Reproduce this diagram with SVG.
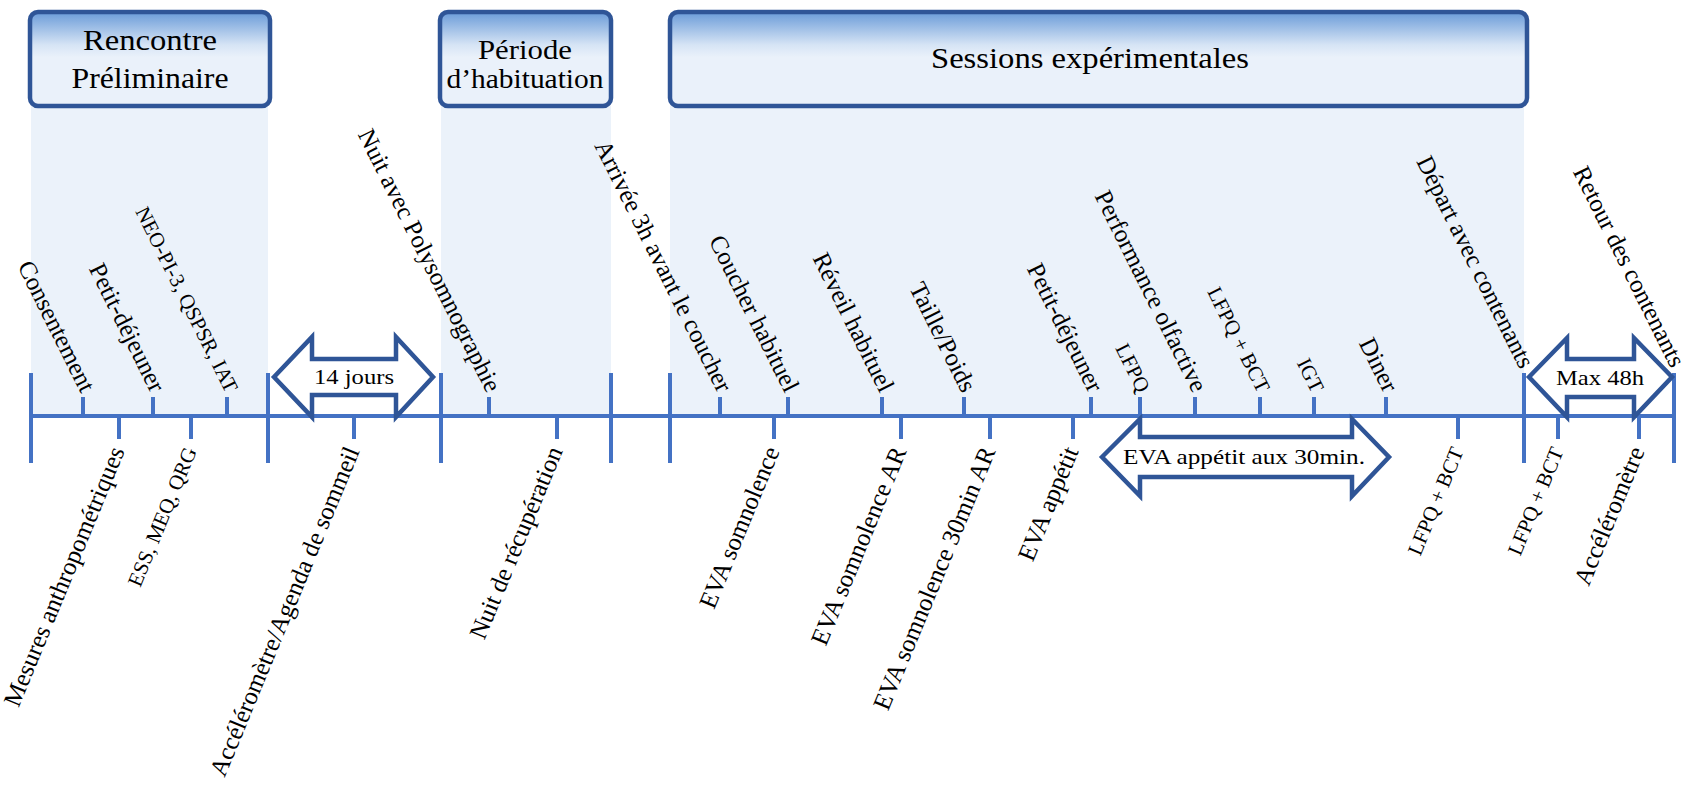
<svg xmlns="http://www.w3.org/2000/svg" width="1688" height="785" viewBox="0 0 1688 785">
<defs>
<linearGradient id="hdr" x1="0" y1="0" x2="0" y2="1">
<stop offset="0" stop-color="#6A9BD8"/>
<stop offset="0.35" stop-color="#D6E4F5"/>
<stop offset="0.48" stop-color="#EAF1FA"/>
<stop offset="1" stop-color="#EAF1FA"/>
</linearGradient>
<style>
.box{fill:url(#hdr);stroke:#2F5597;stroke-width:4.5}
.col{fill:#EBF2FA}
.axis{stroke:#4472C4;stroke-width:4;fill:none}
.arr{fill:#fff;stroke:#2F5597;stroke-width:4.5;stroke-linejoin:miter}
.h{font-family:"Liberation Serif","Times New Roman",serif;fill:#000;text-anchor:middle}
.lb{font-family:"Liberation Serif","Times New Roman",serif;fill:#000;font-size:25px;text-anchor:end}
.sm{font-size:21px}
</style>
</defs>
<rect width="1688" height="785" fill="#fff"/>

<g id="bands">
<rect class="col" x="31" y="106" width="237" height="310"/>
<rect class="col" x="441" y="106" width="170" height="310"/>
<rect class="col" x="670" y="106" width="854" height="310"/>
</g>

<g id="phase-rencontre">
<rect class="box" x="30" y="12" width="240" height="94" rx="8"/>
<text class="h" x="150" y="50" font-size="29" textLength="134" lengthAdjust="spacingAndGlyphs">Rencontre</text>
<text class="h" x="150" y="88" font-size="29" textLength="157" lengthAdjust="spacingAndGlyphs">Préliminaire</text>
</g>
<g id="phase-habituation">
<rect class="box" x="440" y="12" width="171" height="94" rx="8"/>
<text class="h" x="525" y="59" font-size="27" textLength="94" lengthAdjust="spacingAndGlyphs">Période</text>
<text class="h" x="525" y="88" font-size="27" textLength="157" lengthAdjust="spacingAndGlyphs">d’habituation</text>
</g>
<g id="phase-sessions">
<rect class="box" x="670" y="12" width="857" height="94" rx="8"/>
<text class="h" x="1090" y="68" font-size="29" textLength="318" lengthAdjust="spacingAndGlyphs">Sessions expérimentales</text>
</g>

<g id="connectors">
<path class="axis" d="M31,416H1674"/>
<path class="axis" d="M31,373V463M268,373V463M441,373V463M611,373V463M670,373V463M1524,373V463M1674,373V463"/>
<path class="axis" d="M83,397V416M153,397V416M227,397V416M489,397V416M720,397V416M788,397V416M882,397V416M964,397V416M1091,397V416M1140,397V416M1195,397V416M1260,397V416M1314,397V416M1386,397V416"/>
<path class="axis" d="M119,416V439M191,416V439M354,416V439M557,416V439M774,416V439M901,416V439M990,416V439M1073,416V439M1458,416V439M1558,416V439M1639,416V439"/>
</g>

<g id="span-14jours">
<polygon class="arr" points="274,377 312,337 312,359 396,359 396,337 433,377 396,417 396,395 312,395 312,417"/>
<text class="h" x="354" y="384" font-size="22" textLength="80" lengthAdjust="spacingAndGlyphs">14 jours</text>
</g>
<g id="span-max48h">
<polygon class="arr" points="1529,377 1567,338 1567,359 1634,359 1634,338 1672,377 1634,417 1634,397 1567,397 1567,417"/>
<text class="h" x="1600" y="385" font-size="22" textLength="88" lengthAdjust="spacingAndGlyphs">Max 48h</text>
</g>
<g id="span-eva">
<polygon class="arr" points="1102,457 1140,419 1140,437 1352,437 1352,419 1389,457 1352,496 1352,477 1140,477 1140,496"/>
<text class="h" x="1244" y="464" font-size="22" textLength="242" lengthAdjust="spacingAndGlyphs">EVA appétit aux 30min.</text>
</g>

<g id="ev-consentement"><text class="lb" transform="translate(81,394) rotate(63.5)">Consentement</text></g>
<g id="ev-petitdej1"><text class="lb" transform="translate(151,394) rotate(63.5)">Petit-déjeuner</text></g>
<g id="ev-neo"><text class="lb sm" transform="translate(226,394) rotate(63.5)">NEO-PI-3, QSPSR, IAT</text></g>
<g id="ev-polysomno"><text class="lb" transform="translate(487,394) rotate(63.5)">Nuit avec Polysomnographie</text></g>
<g id="ev-arrivee"><text class="lb" transform="translate(718,394) rotate(63.5)">Arrivée 3h avant le coucher</text></g>
<g id="ev-coucher"><text class="lb" transform="translate(785,394) rotate(63.5)">Coucher habituel</text></g>
<g id="ev-reveil"><text class="lb" transform="translate(880,394) rotate(63.5)">Réveil habituel</text></g>
<g id="ev-taille"><text class="lb" transform="translate(962,394) rotate(63.5)">Taille/Poids</text></g>
<g id="ev-petitdej2"><text class="lb" transform="translate(1089,394) rotate(63.5)">Petit-déjeuner</text></g>
<g id="ev-lfpq"><text class="lb sm" transform="translate(1138,394) rotate(63.5)">LFPQ</text></g>
<g id="ev-olfactive"><text class="lb" transform="translate(1193,394) rotate(63.5)">Performance olfactive</text></g>
<g id="ev-lfpqbct1"><text class="lb sm" transform="translate(1258,394) rotate(63.5)">LFPQ + BCT</text></g>
<g id="ev-igt"><text class="lb sm" transform="translate(1312,394) rotate(63.5)">IGT</text></g>
<g id="ev-diner"><text class="lb" transform="translate(1384,394) rotate(63.5)">Diner</text></g>
<g id="ev-depart"><text class="lb" transform="translate(1520,370) rotate(63.5)">Départ avec contenants</text></g>
<g id="ev-retour"><text class="lb" transform="translate(1671,369) rotate(63.5)">Retour des contenants</text></g>

<g id="ev-mesures"><text class="lb" transform="translate(125,451) rotate(-67.5)">Mesures anthropométriques</text></g>
<g id="ev-ess"><text class="lb sm" transform="translate(197,451) rotate(-67.5)">ESS, MEQ, QRG</text></g>
<g id="ev-accel1"><text class="lb" transform="translate(360,451) rotate(-67.5)">Accéléromètre/Agenda de sommeil</text></g>
<g id="ev-recup"><text class="lb" transform="translate(563,451) rotate(-67.5)">Nuit de récupération</text></g>
<g id="ev-evasomno"><text class="lb" transform="translate(780,451) rotate(-67.5)">EVA somnolence</text></g>
<g id="ev-evasomnoar"><text class="lb" transform="translate(907,451) rotate(-67.5)">EVA somnolence AR</text></g>
<g id="ev-evasomno30"><text class="lb" transform="translate(996,451) rotate(-67.5)">EVA somnolence 30min AR</text></g>
<g id="ev-evaapp"><text class="lb" transform="translate(1079,451) rotate(-67.5)">EVA appétit</text></g>
<g id="ev-lfpqbct2"><text class="lb sm" transform="translate(1464,451) rotate(-67.5)">LFPQ + BCT</text></g>
<g id="ev-lfpqbct3"><text class="lb sm" transform="translate(1564,451) rotate(-67.5)">LFPQ + BCT</text></g>
<g id="ev-accel2"><text class="lb" transform="translate(1645,451) rotate(-67.5)">Accéléromètre</text></g>
</svg>
